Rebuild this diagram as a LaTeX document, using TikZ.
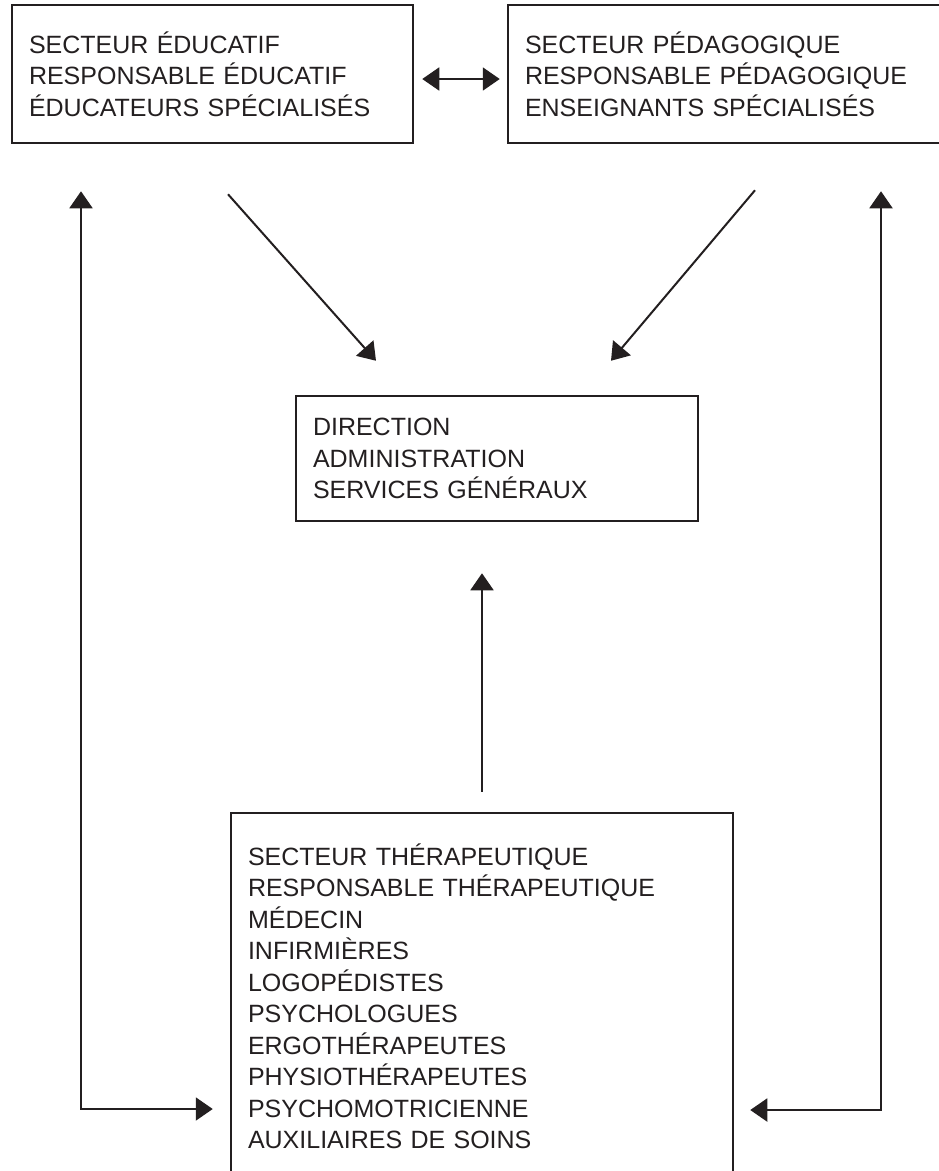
\documentclass[tikz,border=0pt]{standalone}
\usepackage{fontspec}
\setmainfont{Liberation Sans}
\usetikzlibrary{arrows.meta}
\definecolor{ink}{HTML}{231F20}

\begin{document}
\begin{tikzpicture}[x=1pt, y=-1pt,
        sector/.style={draw=ink, line width=2.5pt, text=ink, align=left, inner xsep=17pt,
            font=\fontsize{25}{31.5}\selectfont},
        link/.style={draw=ink, line width=2pt},
        >={Triangle[length=17pt, width=23pt]}]
        \useasboundingbox (0, 0) rectangle (939, 1171);
        \clip (0, 0) rectangle (939, 1171);
        \node[sector, text width=367pt, minimum height=138pt] at (212.5, 74) (edu) {SECTEUR ÉDUCATIF\\RESPONSABLE ÉDUCATIF\\ÉDUCATEURS SPÉCIALISÉS};
        \node[sector, text width=418pt, minimum height=138pt] at (734, 74) (peda) {SECTEUR PÉDAGOGIQUE\\RESPONSABLE PÉDAGOGIQUE\\ENSEIGNANTS SPÉCIALISÉS};
        \node[sector, text width=368pt, minimum height=125pt] at (497, 458.5) (dir) {DIRECTION\\ADMINISTRATION\\SERVICES GÉNÉRAUX};
        \node[sector, text width=468pt, minimum height=367pt] at (482, 996.5) (thera) {SECTEUR THÉRAPEUTIQUE\\RESPONSABLE THÉRAPEUTIQUE\\MÉDECIN\\INFIRMIÈRES\\LOGOPÉDISTES\\PSYCHOLOGUES\\ERGOTHÉRAPEUTES\\PHYSIOTHÉRAPEUTES\\PSYCHOMOTRICIENNE\\AUXILIAIRES DE SOINS};
        \draw[link, <->] ([xshift=8pt, yshift=-5pt]edu.east) -- ([xshift=-7pt, yshift=-5pt]peda.west);
        \draw[link, ->] ([xshift=15.5pt, yshift=-50pt]edu.south) -- ([xshift=-121pt, yshift=34pt]dir.north);
        \draw[link, ->] ([xshift=21pt, yshift=-46pt]peda.south) -- ([xshift=114pt, yshift=34pt]dir.north);
        \draw[link, ->] ([yshift=20pt]thera.north) -- ([xshift=-15pt, yshift=-51pt]dir.south);
        \draw[link, <->] ([xshift=-131.5pt, yshift=-47pt]edu.south) |- ([xshift=-17pt, yshift=-112.5pt]thera.west);
        \draw[link, <->] ([xshift=147pt, yshift=-47pt]peda.south) |- ([xshift=16pt, yshift=-113.5pt]thera.east);
    \end{tikzpicture}
\end{document}
